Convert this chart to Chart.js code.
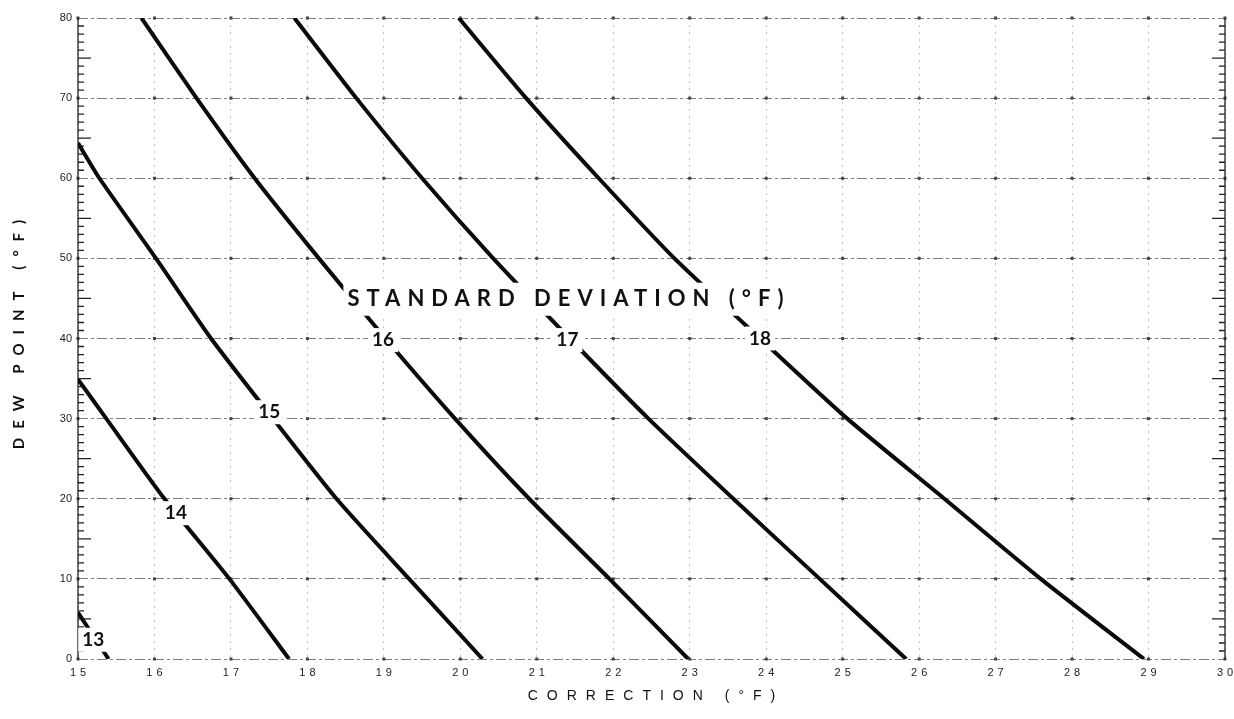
<!DOCTYPE html>
<html>
<head>
<meta charset="utf-8">
<title>Dew point correction</title>
<script src="https://cdn.jsdelivr.net/npm/chart.js@4.4.1/dist/chart.umd.min.js"></script>
<style>
  body { margin: 0; background: #fff; }
  #wrap { width: 1234px; height: 719px; }
</style>
</head>
<body>
<div id="wrap"><canvas id="dewChart" width="1234" height="719"></canvas></div>
<script>
// axis ticks
const xTicks = [15, 16, 17, 18, 19, 20, 21, 22, 23, 24, 25, 26, 27, 28, 29, 30];
const yTicks = [0, 10, 20, 30, 40, 50, 60, 70, 80];

// curves, one per standard deviation (correction °F vs dew point °F)
const sd13Corr = [15.0, 15.4];
const sd13Dew  = [5.8, 0];
const sd14Corr = [15.0, 15.37, 16.13, 16.98, 17.76];
const sd14Dew  = [34.9, 30, 20, 10, 0];
const sd15Corr = [15.0, 15.28, 16.02, 16.74, 17.55, 18.38, 19.33, 20.29];
const sd15Dew  = [64.4, 60, 50, 40, 30, 20, 10, 0];
const sd16Corr = [15.83, 16.55, 17.31, 18.15, 19.02, 19.93, 20.9, 21.95, 22.98];
const sd16Dew  = [80, 70, 60, 50, 40, 30, 20, 10, 0];
const sd17Corr = [17.83, 18.64, 19.5, 20.43, 21.43, 22.46, 23.57, 24.7, 25.83];
const sd17Dew  = [80, 70, 60, 50, 40, 30, 20, 10, 0];
const sd18Corr = [19.98, 20.86, 21.81, 22.8, 23.92, 25.06, 26.33, 27.59, 28.94];
const sd18Dew  = [80, 70, 60, 50, 40, 30, 20, 10, 0];

// curve labels
const curveNames = ['13', '14', '15', '16', '17', '18'];
const labelCorr = [15.2, 16.28, 17.5, 18.99, 21.4, 23.92];
const labelDew  = [2.4, 18.2, 30.8, 39.8, 39.8, 40];

const curves = [
  [sd13Corr, sd13Dew], [sd14Corr, sd14Dew], [sd15Corr, sd15Dew],
  [sd16Corr, sd16Dew], [sd17Corr, sd17Dew], [sd18Corr, sd18Dew]
];

const datasets = curves.map((c, i) => ({
  label: curveNames[i],
  data: c[0].map((v, j) => ({ x: v, y: c[1][j] })),
  showLine: true,
  borderColor: '#0a0a0a',
  borderWidth: 4,
  pointRadius: 0,
  tension: 0.2
}));

function boxedText(ctx, text, px, py, padX, padY, capH) {
  const w = ctx.measureText(text).width;
  ctx.fillStyle = '#fff';
  ctx.fillRect(px - w / 2 - padX, py - capH / 2 - padY, w + padX * 2, capH + padY * 2);
  ctx.fillStyle = '#111';
  ctx.fillText(text, px, py);
}

const decor = {
  id: 'decor',
  beforeDatasetsDraw(chart) {
    const { ctx, chartArea: a, scales: { x, y } } = chart;
    ctx.save();
    // little dots where grid lines cross
    ctx.fillStyle = '#444';
    xTicks.forEach(xv => yTicks.forEach(yv => {
      ctx.fillRect(x.getPixelForValue(xv) - 1.5, y.getPixelForValue(yv) - 1.5, 3, 3);
    }));
    // solid side axes with minor ticks
    ctx.strokeStyle = '#222';
    ctx.lineWidth = 1.3;
    ctx.beginPath();
    ctx.moveTo(a.left, a.top); ctx.lineTo(a.left, a.bottom);
    ctx.moveTo(a.right, a.top); ctx.lineTo(a.right, a.bottom);
    for (let v = 0; v <= 80; v++) {
      if (v % 10 === 0) continue;
      const py = y.getPixelForValue(v);
      const len = v % 5 === 0 ? 13 : 6;
      ctx.moveTo(a.left, py); ctx.lineTo(a.left + len, py);
      ctx.moveTo(a.right, py); ctx.lineTo(a.right - len, py);
    }
    ctx.stroke();
    // x tick labels (spaced out like the original)
    ctx.font = '11px "Liberation Sans"';
    ctx.fillStyle = '#222';
    ctx.textAlign = 'center';
    ctx.textBaseline = 'middle';
    ctx.letterSpacing = '4px';
    xTicks.forEach(v => {
      ctx.fillText(String(v), x.getPixelForValue(v) + 2, a.bottom + 14);
    });
    ctx.restore();
  },
  afterDatasetsDraw(chart) {
    const { ctx, scales: { x, y } } = chart;
    ctx.save();
    ctx.textAlign = 'center';
    ctx.textBaseline = 'middle';
    ctx.font = 'bold 19px Lato';
    curveNames.forEach((n, i) => {
      boxedText(ctx, n, x.getPixelForValue(labelCorr[i]), y.getPixelForValue(labelDew[i]), 4, 5, 14);
    });
    ctx.font = 'bold 22px Lato';
    ctx.letterSpacing = '7px';
    boxedText(ctx, 'STANDARD DEVIATION (°F)', x.getPixelForValue(21.42), y.getPixelForValue(44.9), 4, 8, 17);
    ctx.restore();
  },
  afterDraw(chart) {
    const { ctx } = chart;
    ctx.save();
    ctx.fillStyle = '#111';
    ctx.textAlign = 'center';
    ctx.textBaseline = 'middle';
    ctx.font = '14px "Liberation Sans"';
    ctx.letterSpacing = '9px';
    ctx.fillText('CORRECTION (°F)', 656, 696);
    ctx.translate(19, 330);
    ctx.rotate(-Math.PI / 2);
    ctx.font = 'bold 15px Lato';
    ctx.letterSpacing = '9px';
    ctx.fillText('DEW POINT (°F)', 0, 0);
    ctx.restore();
  }
};

const chart = new Chart(document.getElementById('dewChart'), {
  type: 'scatter',
  data: { datasets: datasets },
  options: {
    responsive: false,
    animation: false,
    layout: { padding: { top: 18, right: 9, left: 0, bottom: 0 } },
    plugins: { legend: { display: false }, tooltip: { enabled: false } },
    scales: {
      x: {
        type: 'linear',
        min: 15,
        max: 30,
        afterBuildTicks: s => { s.ticks = xTicks.map(v => ({ value: v })); },
        afterFit: s => { s.height = 60; },
        ticks: { display: false },
        border: { display: false, dash: [2, 5] },
        grid: { color: 'rgba(0,0,0,0.25)', drawTicks: false, lineWidth: 1 }
      },
      y: {
        type: 'linear',
        min: 0,
        max: 80,
        afterBuildTicks: s => { s.ticks = yTicks.map(v => ({ value: v })); },
        afterFit: s => { s.width = 78; },
        ticks: { padding: 6, color: '#222', font: { family: 'Liberation Sans', size: 11 } },
        border: { display: false, dash: [10, 3, 3, 3] },
        grid: { color: 'rgba(0,0,0,0.5)', drawTicks: false, lineWidth: 1 }
      }
    }
  },
  plugins: [decor]
});
</script>
</body>
</html>
